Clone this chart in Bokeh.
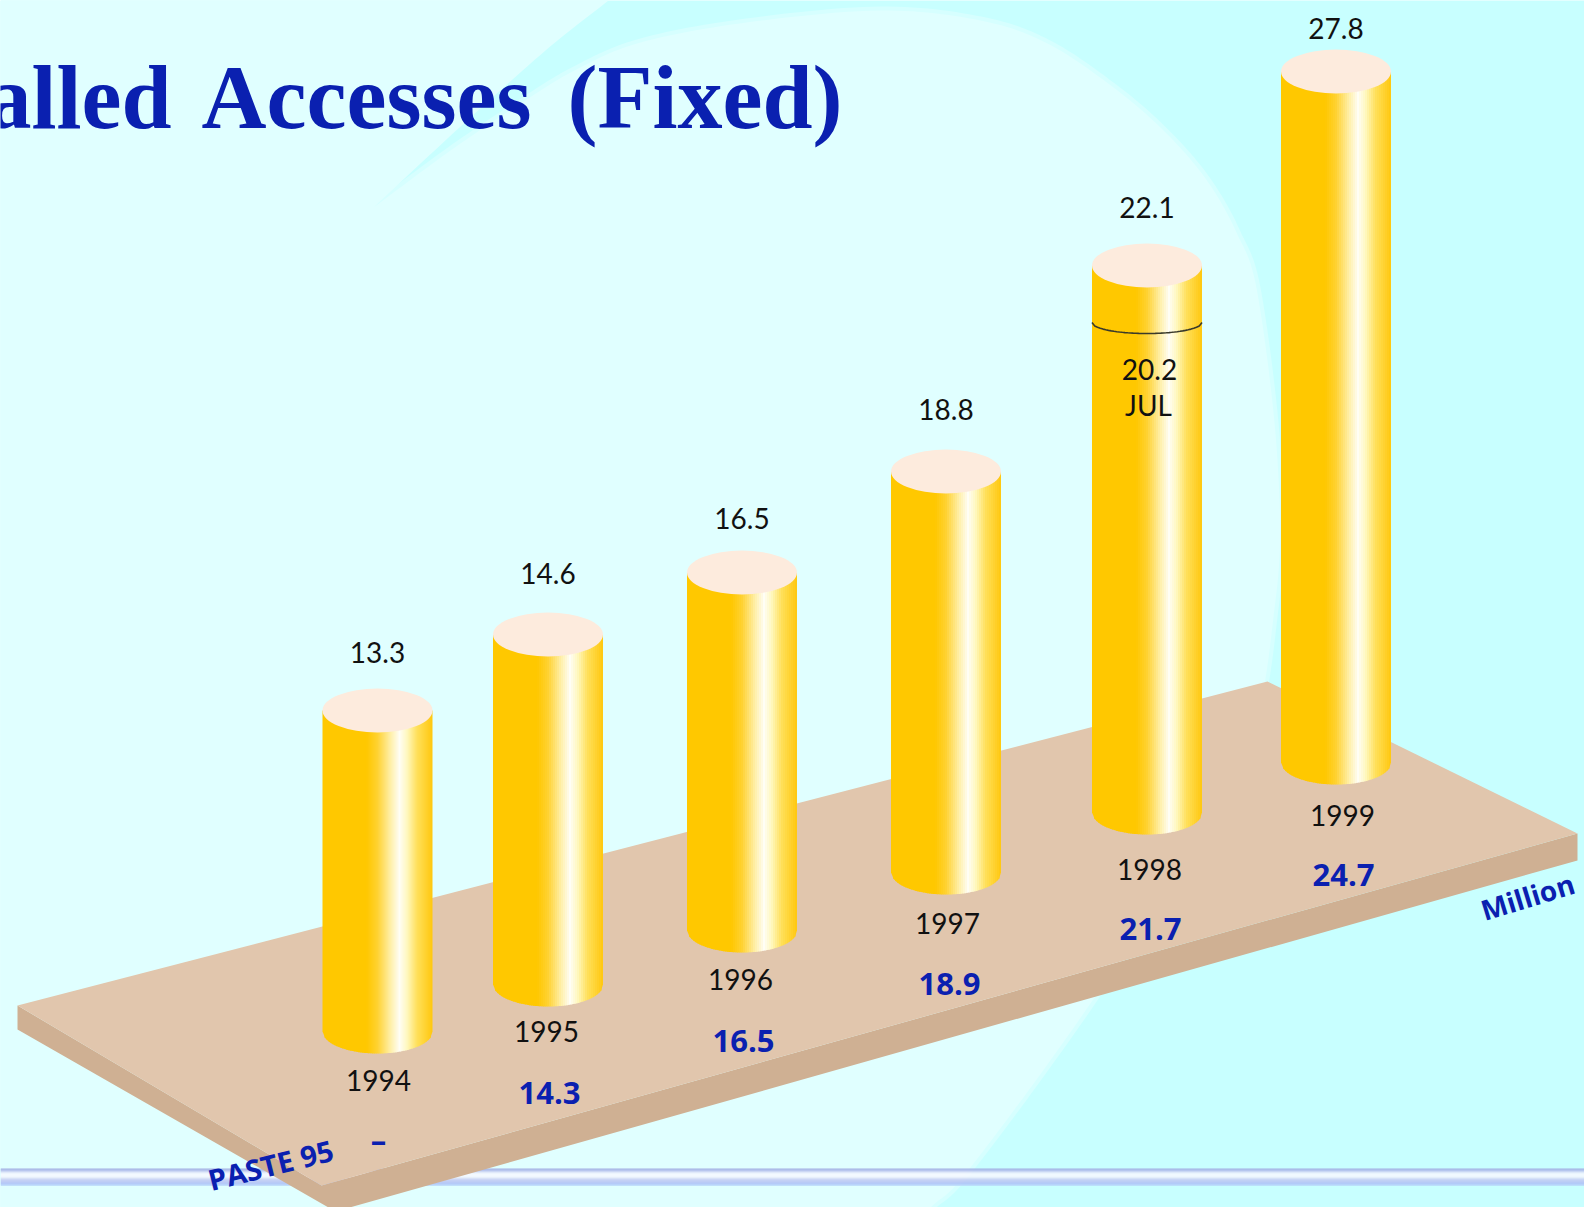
import numpy as np
from bokeh.plotting import figure
from bokeh.models import Range1d
from bokeh.embed import file_html
from bokeh.resources import INLINE
from bokeh.core.properties import value

# ---- data
years = ["1994", "1995", "1996", "1997", "1998", "1999"]
total_labels = ["13.3", "14.6", "16.5", "18.8", "22.1", "27.8"]
paste95_labels = ["\u2013", "14.3", "16.5", "18.9", "21.7", "24.7"]
column_height = [321, 350, 358, 401, 547, 691]   # drawn height of each column

# ---- layout of the pseudo-3D scene (picture pixels)
col_x = [377, 547.5, 741.5, 945.5, 1146.5, 1335.5]
col_base = [1031, 984, 930, 872, 812, 762]
total_y = [652, 573, 518, 409, 207, 28]
year_x = [378, 546, 740, 947, 1149, 1342]
year_y = [1080, 1031, 979, 923, 869, 815]
paste_x = [378, 549, 743, 949, 1150, 1343]
paste_y = [1139, 1092, 1040, 983, 928, 874]
RX, RY = 55, 22

BLUE = "#0A20B0"
FONT = "Lato"
BOLD = "Open Sans"

p = figure(width=1584, height=1207, output_backend="svg", toolbar_location=None,
           x_range=Range1d(0, 1584), y_range=Range1d(1207, 0),
           min_border=0, outline_line_color=None, background_fill_color="#C8FFFF",
           border_fill_color="#C8FFFF")
p.axis.visible = False
p.grid.visible = False


def spline(pts, n=14):
    pts = np.array(pts, float)
    q = np.vstack([2 * pts[0] - pts[1], pts, 2 * pts[-1] - pts[-2]])
    out = []
    for i in range(1, len(q) - 2):
        for t in np.linspace(0, 1, n, endpoint=False):
            a, b, c, d = q[i - 1], q[i], q[i + 1], q[i + 2]
            out.append(0.5 * (2 * b + (c - a) * t + (2 * a - 5 * b + 4 * c - d) * t ** 2
                              + (3 * b - a - 3 * c + d) * t ** 3))
    out.append(pts[-1])
    return np.array(out)


# background: pale disc and swoosh on cyan
outer = spline([(608, 0), (545, 50), (459, 127), (373, 207)])
inner = spline([(373, 207), (450, 150), (517, 105), (574, 70), (640, 42), (746, 22), (880, 10),
                (980, 20), (1047, 43), (1113, 87), (1163, 130), (1205, 178), (1236, 232), (1257, 293),
                (1277, 460), (1275, 600), (1235, 780),
                (1092, 1000), (970, 1167), (930, 1207)])
bx = [0] + list(outer[:, 0]) + list(inner[:, 0]) + [0]
by = [0] + list(outer[:, 1]) + list(inner[:, 1]) + [1207]
p.line(inner[:, 0], inner[:, 1], line_color="#D6FFFF", line_width=8)
p.patch(bx, by, fill_color="#E0FFFF", line_color=None)

# footer rule
rule_y = list(range(1168, 1185))
rule_c = ["#A3B0E4", "#A8B5E8", "#BAC6EE", "#D5DCF6", "#EAEEFB", "#F4F7FE", "#F7FAFF", "#F6F8FF",
          "#F0F3FD", "#E2E7FA", "#D0D7F6", "#C4CCF4", "#BEC8F4", "#B8C4F4", "#B0C2F6", "#AEC4F8", "#B8D4FA"]
p.quad(left=0, right=1584, top=rule_y, bottom=[y + 1.3 for y in rule_y], fill_color=rule_c, line_color=None)

# board
p.patch([17, 17, 335, 1577, 1577, 321], [1005, 1029, 1211, 860, 833, 1185], fill_color="#CFB093", line_color=None)
p.patch([17, 1267, 1577, 321], [1005, 681, 833, 1185], fill_color="#E1C6AD", line_color=None)

# column shading across its width
stops = [0, .40, .50, .62, .70, .77, .86, 1]
reds = [255, 255, 255, 255, 255, 255, 255, 255]
greens = [200, 200, 210, 240, 254, 248, 224, 200]
blues = [0, 0, 50, 170, 245, 190, 90, 15]


def shade(t):
    return "#%02X%02X%02X" % (int(np.interp(t, stops, reds)), int(np.interp(t, stops, greens)),
                              int(np.interp(t, stops, blues)))


N = 55
for cx, base, h in zip(col_x, col_base, column_height):
    top = base - h
    edges = np.linspace(-1, 1, N + 1)
    xs, ys, cols = [], [], []
    for a, b in zip(edges[:-1], edges[1:]):
        over = 0 if b == 1 else 0.5
        xs.append([cx + RX * a, cx + RX * b + over, cx + RX * b + over, cx + RX * a])
        ys.append([top, top, base + RY * np.sqrt(max(0, 1 - b * b)), base + RY * np.sqrt(1 - a * a)])
        cols.append(shade((a + b + 2) / 4))
    p.patches(xs, ys, fill_color=cols, line_color=None)

p.ellipse(col_x, [b - h for b, h in zip(col_base, column_height)], width=2 * RX, height=2 * RY,
          fill_color="#FDEBDD", line_color=None)

# July marker on the 1998 column
u = np.linspace(-1, 1, 41)
p.line(col_x[4] + RX * u, 322 + 11 * np.sqrt(1 - u * u), line_color="#3A3A2A", line_width=1.6)


def label(x, y, t, color="#111111", size=28, font=FONT, style="normal", angle=0.0, align="center"):
    p.text(x, y, text=t, text_color=color, text_font_size=f"{size}px", text_font=value(font),
           text_font_style=style, text_align=align, text_baseline="middle", angle=np.radians(angle))


label(col_x, total_y, total_labels)
label(year_x, year_y, years)
label(paste_x, paste_y, paste95_labels, color=BLUE, size=31, font=BOLD, style="bold")
label([1149], [369], ["20.2"])
label([1148], [404], ["JUL"])
label([1527], [896], ["Million"], color=BLUE, size=28, font=BOLD, style="bold", angle=17)
label([270], [1164], ["PASTE 95"], color=BLUE, size=29, font=BOLD, style="bold", angle=14)

# title, cut off at the left as in the picture
for tx, txt, al in [(171, "alled", "right"), (366, "Accesses", "center"), (842, "(Fixed)", "right")]:
    p.text([tx], [97], text=[txt], text_color=BLUE, text_font_size="90px",
           text_font=value("Liberation Serif"), text_font_style="bold", text_align=al,
           text_baseline="middle")

open("out.html", "w").write(file_html(p, INLINE))
